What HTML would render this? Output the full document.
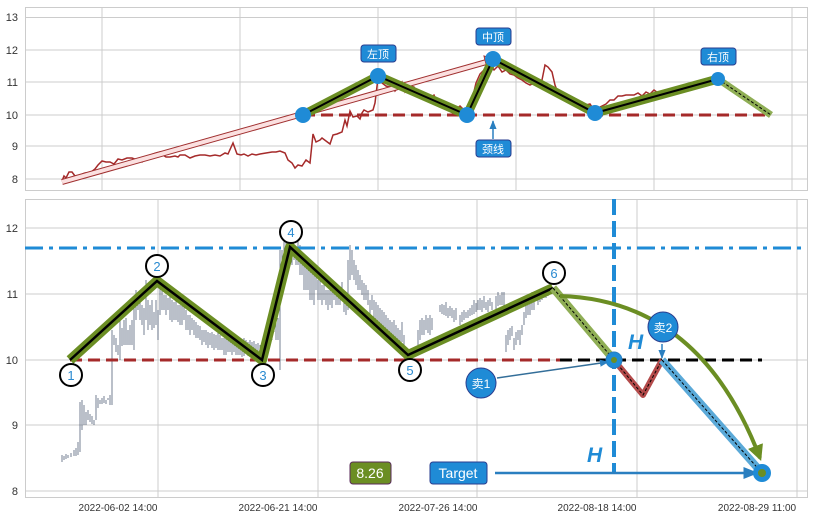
<!DOCTYPE html>
<html><head><meta charset="utf-8"><style>
body{margin:0;background:#fff;width:813px;height:520px;overflow:hidden;font-family:"Liberation Sans","Noto Sans CJK SC",sans-serif}
</style></head><body>
<svg width="813" height="520" xmlns="http://www.w3.org/2000/svg" font-family="Liberation Sans, Noto Sans CJK SC, sans-serif">
<defs>
<marker id="ab" viewBox="0 0 10 10" refX="9" refY="5" markerWidth="6" markerHeight="6" orient="auto"><path d="M0,1 L10,5 L0,9z" fill="#2a7fc0"/></marker>
<marker id="ag" viewBox="0 0 10 10" refX="8" refY="5" markerWidth="4" markerHeight="4" orient="auto"><path d="M0,0 L10,5 L0,10z" fill="#6b8e23"/></marker>
</defs>
<rect x="25.5" y="7.5" width="782" height="183" fill="#fff" stroke="#ccc"/>
<g stroke="#ccc" stroke-width="1">
<path d="M25 17.5H807M25 50H807M25 82H807M25 115H807M25 146H807M25 179H807"/>
<path d="M102 7V190M240 7V190M378 7V190M516 7V190M654 7V190M792 7V190"/>
</g>
<g font-size="11" fill="#333" text-anchor="end">
<text x="18" y="21">13</text><text x="18" y="54">12</text><text x="18" y="86">11</text><text x="18" y="119">10</text><text x="18" y="150">9</text><text x="18" y="183">8</text>
</g>
<polyline fill="none" stroke="#a52a2a" stroke-width="1.5" points="62,181 64,176 66,178 69,172 72,172 75,176 80,175 85,173 90,173 95,169 98,165 102,161 106,162 110,162 114,164 118,159 122,160 127,158 132,158 137,160 142,162 146,158 150,155 156,153 160,152 163,155 166,157 170,157 175,156 178,157 180,155 185,155 190,158 195,156 200,155 205,155 210,156 215,155 220,156 225,153 228,154 233,143 237,154 241,155 244,154 248,156 252,154 256,155 260,154 266,153 272,152 276,152 280,151 285,153 288,160 292,163 295,168 298,165 302,166 306,160 310,163 313,134 316,142 320,140 322,138 326,141 330,144 333,135 337,134 342,132 345,120 347,126 350,111 353,117 357,116 360,119 362,113 364,110 368,112 373,110 375,103 378,78 382,83 386,86 390,87 393,87 395,91 399,86 402,82 405,92 410,86 414,87 418,93 422,94 426,100 430,98 434,95 437,102 440,105 445,104 450,110 455,110 460,106 465,111 468,110 472,100 476,83 480,74 484,70 488,65 490,64 494,70 498,66 502,72 506,70 510,74 514,75 518,78 522,80 526,83 530,85 534,83 538,86 542,80 545,65 548,67 552,72 555,85 558,93 562,97 566,99 570,98 574,103 578,101 582,102 586,105 590,104 594,110 598,108 602,106 606,104 610,100 614,100 618,96 622,96 626,95 630,95 634,95 638,93 642,96 646,92 650,94 654,90 658,93 662,92 666,95 670,94 674,92 678,88 682,92 686,88 690,90 694,85 697,82 700,84 704,80 708,80 712,78 716,78"/>
<path d="M303 115H771" stroke="#a52a2a" stroke-width="3" stroke-dasharray="12,6"/>
<line x1="62" y1="182" x2="490" y2="61" stroke="#a03030" stroke-width="6"/>
<line x1="62" y1="182" x2="490" y2="61" stroke="#fbe0e0" stroke-width="4"/>
<path d="M484 56 L495 60 L487 68z" fill="#fbe0e0" stroke="#a03030"/>
<polyline fill="none" stroke="#6b8e23" stroke-width="9" stroke-linejoin="round" points="303,115 378,76 467,115 493,59 595,113 718,79"/>
<polyline fill="none" stroke="#000" stroke-width="2" points="303,115 378,76 467,115 493,59 595,113 718,79"/>
<line x1="718" y1="79" x2="771" y2="115" stroke="#8fae55" stroke-width="7"/>
<line x1="718" y1="79" x2="771" y2="115" stroke="#000" stroke-width="1" stroke-dasharray="3,2"/>
<g fill="#1f8bd6"><circle cx="303" cy="115" r="8"/><circle cx="378" cy="76" r="8"/><circle cx="467" cy="115" r="8"/><circle cx="493" cy="59" r="8"/><circle cx="595" cy="113" r="8"/><circle cx="718" cy="79" r="7"/></g>
<line x1="493" y1="139" x2="493" y2="121" stroke="#2a7fc0" stroke-width="1.5" marker-end="url(#ab)"/>
<g font-size="11" fill="#fff" text-anchor="middle">
<rect x="361" y="45" width="35" height="17" rx="3" fill="#1f8bd6" stroke="#2a3d8f"/><text x="378" y="58">左顶</text>
<rect x="476" y="28" width="35" height="17" rx="3" fill="#1f8bd6" stroke="#2a3d8f"/><text x="493" y="41">中顶</text>
<rect x="476" y="140" width="35" height="17" rx="3" fill="#1f8bd6" stroke="#2a3d8f"/><text x="493" y="153">颈线</text>
<rect x="701" y="48" width="35" height="17" rx="3" fill="#1f8bd6" stroke="#2a3d8f"/><text x="718" y="61">右顶</text>
</g>
<rect x="25.5" y="199.5" width="782" height="298" fill="#fff" stroke="#ccc"/>
<g stroke="#ccc" stroke-width="1">
<path d="M25 228H807M25 294H807M25 360H807M25 425H807M25 491H807"/>
<path d="M158 199V497M318 199V497M477 199V497M637 199V497M797 199V497"/>
</g>
<g font-size="11" fill="#333" text-anchor="end">
<text x="18" y="232">12</text><text x="18" y="298">11</text><text x="18" y="364">10</text><text x="18" y="429">9</text><text x="18" y="495">8</text>
</g>
<g font-size="10" fill="#333" text-anchor="middle">
<text x="118" y="511">2022-06-02 14:00</text><text x="278" y="511">2022-06-21 14:00</text><text x="438" y="511">2022-07-26 14:00</text><text x="597" y="511">2022-08-18 14:00</text><text x="757" y="511">2022-08-29 11:00</text>
</g>
<path fill="none" stroke="#3a4a66" stroke-width="0.7" d="M62 455V462M64 456V460M66 454V459M68 455V458M71 453V457M74 450V456M76 448V456M78 442V455M80 402V452M82 400V430M84 405V425M86 412V425M88 410V420M90 414V422M92 416V424M94 420V425M96 395V420M98 398V408M100 400V404M102 398V404M104 396V403M106 400V404M108 398V400M110 395V405M112 330V405M114 335V345M116 338V352M118 345V355M120 320V360M122 328V346M124 320V345M126 318V345M128 330V345M130 325V345M132 320V345M134 300V350M136 290V320M138 298V310M140 300V320M142 305V325M144 308V335M146 280V320M148 300V330M150 305V325M152 300V330M154 312V328M156 300V325M158 310V340M160 280V315M162 290V310M164 295V310M166 295V315M168 298V310M170 295V320M172 300V322M174 302V320M176 300V320M178 305V322M180 305V325M182 300V325M184 305V320M186 310V330M188 315V330M190 315V335M192 318V330M194 320V335M196 322V338M198 325V338M200 326V340M202 330V345M204 330V342M206 330V345M208 332V348M210 333V345M212 332V348M214 334V350M216 335V348M218 333V350M220 335V350M222 338V350M224 338V355M226 335V355M228 338V352M230 336V352M232 340V355M234 338V352M236 340V355M238 336V355M240 340V355M242 340V357M244 338V356M246 340V352M248 342V356M250 340V356M252 342V356M254 341V356M256 344V360M258 343V358M260 345V360M268 330V352M270 320V345M272 318V340M274 315V332M276 312V340M278 318V340M280 250V370M282 250V270M284 240V262M286 235V255M288 238V260M290 235V260M292 240V265M294 245V260M296 250V265M298 240V265M300 245V275M302 255V275M304 258V290M306 260V290M308 265V290M310 262V300M312 270V300M314 270V305M316 275V290M318 280V300M320 275V300M322 285V305M324 280V300M326 290V305M328 290V310M330 285V305M332 292V308M334 290V300M336 290V305M338 292V305M340 290V305M342 282V300M344 295V312M346 295V315M348 260V310M350 245V280M352 250V275M354 260V280M356 265V285M358 270V290M360 275V290M362 280V295M364 283V300M366 285V300M368 290V305M370 300V315M372 295V310M374 300V318M376 302V320M378 305V322M380 308V325M382 310V325M384 312V328M386 315V330M388 318V335M390 320V335M392 322V338M394 320V345M396 325V340M398 328V345M400 330V345M402 322V342M404 335V350M418 330V345M420 320V340M422 318V335M424 320V335M426 315V330M428 318V333M430 315V335M432 318V330M440 305V312M442 304V314M444 305V315M446 302V316M448 308V318M450 306V316M452 308V318M454 310V322M456 308V320M460 315V325M462 312V322M464 310V320M466 312V318M468 310V318M470 308V316M472 305V315M474 300V314M476 303V312M478 300V310M480 298V310M482 300V312M484 296V308M486 302V310M488 300V312M490 298V306M492 302V310M496 296V312M498 292V306M500 295V305M502 292V305M504 292V310M506 335V352M508 330V345M510 328V340M512 326V336M514 338V350M516 332V345M518 330V340M520 330V345M522 325V335M524 312V325M526 300V318M528 295V315M530 296V315M532 292V310M534 295V310M538 292V305M540 290V302M542 288V300M544 290V298M546 288V298M548 286V296"/>
<path d="M25 248H807" stroke="#1f8bd6" stroke-width="3" stroke-dasharray="18,6,4,6"/>
<path d="M70 360H560" stroke="#a52a2a" stroke-width="3" stroke-dasharray="12,6"/>
<path d="M560 360H762" stroke="#000" stroke-width="3" stroke-dasharray="12,6"/>
<path d="M614 199V473" stroke="#1f8bd6" stroke-width="4" stroke-dasharray="16,6"/>
<polyline fill="none" stroke="#6b8e23" stroke-width="10" stroke-linejoin="round" points="70,360 157,281 262,360 290,247 408,355 553,288"/>
<polyline fill="none" stroke="#000" stroke-width="2.5" points="70,360 157,281 262,360 290,247 408,355 553,288"/>
<line x1="553" y1="288" x2="614" y2="360" stroke="#8fae55" stroke-width="8"/>
<line x1="553" y1="288" x2="614" y2="360" stroke="#000" stroke-width="1" stroke-dasharray="3,2"/>
<polyline fill="none" stroke="#b34a4a" stroke-width="6" stroke-linejoin="round" points="614,360 643,395 662,360"/>
<polyline fill="none" stroke="#000" stroke-width="1" stroke-dasharray="3,2" points="614,360 643,395 662,360"/>
<line x1="662" y1="360" x2="762" y2="473" stroke="#5aa9d8" stroke-width="8"/>
<line x1="662" y1="360" x2="762" y2="473" stroke="#000" stroke-width="1" stroke-dasharray="3,2"/>
<path d="M560 296 Q700 300 760 458" fill="none" stroke="#6b8e23" stroke-width="4" marker-end="url(#ag)"/>
<line x1="495" y1="473" x2="757" y2="473" stroke="#2a7fc0" stroke-width="2.5" marker-end="url(#ab)"/>
<line x1="497" y1="378" x2="608" y2="362" stroke="#336e99" stroke-width="1.5" marker-end="url(#ab)"/>
<line x1="662" y1="344" x2="662" y2="358" stroke="#2a7fc0" stroke-width="1.5" marker-end="url(#ab)"/>
<circle cx="614" cy="360" r="8" fill="#1f8bd6" stroke="#2a7fc0"/><circle cx="614" cy="360" r="3" fill="#6b8e23"/>
<circle cx="762" cy="473" r="9" fill="#1f8bd6"/><circle cx="762" cy="473" r="4" fill="#6b8e23"/>
<g fill="#fff" stroke="#000" stroke-width="2" font-size="13">
<circle cx="71" cy="375" r="11"/><circle cx="157" cy="266" r="11"/><circle cx="263" cy="375" r="11"/><circle cx="291" cy="232" r="11"/><circle cx="410" cy="370" r="11"/><circle cx="554" cy="273" r="11"/>
</g>
<g fill="#2a8ad0" font-size="13" text-anchor="middle">
<text x="71" y="380">1</text><text x="157" y="271">2</text><text x="263" y="380">3</text><text x="291" y="237">4</text><text x="410" y="375">5</text><text x="554" y="278">6</text>
</g>
<circle cx="481" cy="383" r="15" fill="#1f8bd6" stroke="#2a3d8f"/><text x="481" y="388" font-size="12" fill="#fff" text-anchor="middle">卖1</text>
<circle cx="663" cy="327" r="15" fill="#1f8bd6" stroke="#2a3d8f"/><text x="663" y="332" font-size="12" fill="#fff" text-anchor="middle">卖2</text>
<text x="628" y="349" font-size="21" font-weight="bold" font-style="italic" fill="#1f8bd6">H</text>
<text x="587" y="462" font-size="21" font-weight="bold" font-style="italic" fill="#1f8bd6">H</text>
<rect x="350" y="462" width="41" height="22" rx="3" fill="#6b8e23" stroke="#5a2a5a"/><text x="370" y="478" font-size="14" fill="#fff" text-anchor="middle">8.26</text>
<rect x="430" y="462" width="57" height="22" rx="3" fill="#1f8bd6" stroke="#2a3d8f"/><text x="458" y="478" font-size="14" fill="#fff" text-anchor="middle">Target</text>
</svg>
</body></html>
